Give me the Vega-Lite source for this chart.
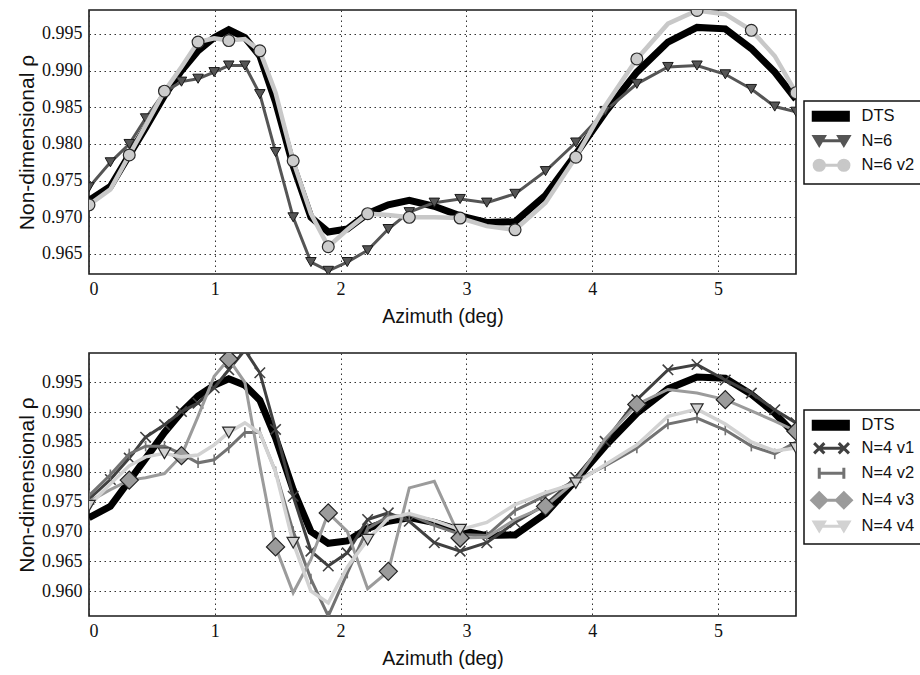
{
  "$schema": "https://vega.github.io/schema/vega-lite/v6.json",
  "background": "white",
  "padding": {"left": 15, "top": 9, "right": 0, "bottom": 0},
  "spacing": 25,
  "resolve": {"scale": {"color": "independent"}, "legend": {"color": "independent"}},
  "config": {
    "view": {"stroke": "#1a1a1a", "strokeWidth": 1.6},
    "axis": {"grid": true, "gridColor": "#333333", "gridDash": [1.5, 3.5], "gridWidth": 1, "domain": false, "ticks": false, "labelFont": "Liberation Serif", "labelFontSize": 18, "labelColor": "#111111", "titleFont": "Liberation Sans", "titleFontWeight": "normal", "titleColor": "#111111"},
    "axisX": {"titleFontSize": 19.5, "labelPadding": 6, "titlePadding": 9},
    "axisY": {"titleFontSize": 21, "labelPadding": 7, "titlePadding": 4},
    "legend": {"orient": "none", "title": null, "padding": 7, "rowPadding": 2.5, "labelFont": "Liberation Sans", "labelFontSize": 16.5, "labelColor": "#111111", "symbolSize": 144, "symbolStrokeWidth": 3, "labelOffset": 34, "strokeColor": "#111111"}
  },
  "datasets": {
    "top": [
      {"series":"DTS","az":0,"rho":0.9723},{"series":"DTS","az":0.17,"rho":0.9742},{"series":"DTS","az":0.32,"rho":0.9785},{"series":"DTS","az":0.45,"rho":0.9822},{"series":"DTS","az":0.6,"rho":0.9866},{"series":"DTS","az":0.735,"rho":0.99},{"series":"DTS","az":0.867,"rho":0.9927},{"series":"DTS","az":0.995,"rho":0.9945},{"series":"DTS","az":1.111,"rho":0.9956},{"series":"DTS","az":1.239,"rho":0.9945},{"series":"DTS","az":1.358,"rho":0.992},{"series":"DTS","az":1.483,"rho":0.9857},{"series":"DTS","az":1.623,"rho":0.977},{"series":"DTS","az":1.764,"rho":0.97},{"series":"DTS","az":1.902,"rho":0.968},{"series":"DTS","az":2.053,"rho":0.9684},{"series":"DTS","az":2.215,"rho":0.9705},{"series":"DTS","az":2.379,"rho":0.9717},{"series":"DTS","az":2.546,"rho":0.9723},{"series":"DTS","az":2.745,"rho":0.9715},{"series":"DTS","az":2.95,"rho":0.9702},{"series":"DTS","az":3.162,"rho":0.9693},{"series":"DTS","az":3.387,"rho":0.9694},{"series":"DTS","az":3.629,"rho":0.973},{"series":"DTS","az":3.87,"rho":0.9786},{"series":"DTS","az":4.103,"rho":0.9843},{"series":"DTS","az":4.355,"rho":0.9898},{"series":"DTS","az":4.602,"rho":0.9939},{"series":"DTS","az":4.833,"rho":0.9959},{"series":"DTS","az":5.058,"rho":0.9957},{"series":"DTS","az":5.265,"rho":0.993},{"series":"DTS","az":5.451,"rho":0.9898},{"series":"DTS","az":5.62,"rho":0.9861},
      {"series":"N=6","az":0,"rho":0.9741},{"series":"N=6","az":0.17,"rho":0.9775},{"series":"N=6","az":0.32,"rho":0.98},{"series":"N=6","az":0.45,"rho":0.9835},{"series":"N=6","az":0.6,"rho":0.9871},{"series":"N=6","az":0.735,"rho":0.9885},{"series":"N=6","az":0.867,"rho":0.9889},{"series":"N=6","az":0.995,"rho":0.9898},{"series":"N=6","az":1.111,"rho":0.9907},{"series":"N=6","az":1.239,"rho":0.9907},{"series":"N=6","az":1.358,"rho":0.9868},{"series":"N=6","az":1.483,"rho":0.9789},{"series":"N=6","az":1.623,"rho":0.97},{"series":"N=6","az":1.764,"rho":0.9639},{"series":"N=6","az":1.902,"rho":0.9627},{"series":"N=6","az":2.053,"rho":0.9639},{"series":"N=6","az":2.215,"rho":0.9655},{"series":"N=6","az":2.379,"rho":0.9684},{"series":"N=6","az":2.546,"rho":0.9707},{"series":"N=6","az":2.745,"rho":0.972},{"series":"N=6","az":2.95,"rho":0.9725},{"series":"N=6","az":3.162,"rho":0.972},{"series":"N=6","az":3.387,"rho":0.9732},{"series":"N=6","az":3.629,"rho":0.9763},{"series":"N=6","az":3.87,"rho":0.9802},{"series":"N=6","az":4.103,"rho":0.9845},{"series":"N=6","az":4.355,"rho":0.9882},{"series":"N=6","az":4.602,"rho":0.9905},{"series":"N=6","az":4.833,"rho":0.9907},{"series":"N=6","az":5.058,"rho":0.9895},{"series":"N=6","az":5.265,"rho":0.9875},{"series":"N=6","az":5.451,"rho":0.9851},{"series":"N=6","az":5.62,"rho":0.9844},
      {"series":"N=6 v2","az":0,"rho":0.9717},{"series":"N=6 v2","az":0.17,"rho":0.9738},{"series":"N=6 v2","az":0.32,"rho":0.9785},{"series":"N=6 v2","az":0.45,"rho":0.9825},{"series":"N=6 v2","az":0.6,"rho":0.9872},{"series":"N=6 v2","az":0.735,"rho":0.9905},{"series":"N=6 v2","az":0.867,"rho":0.9939},{"series":"N=6 v2","az":0.995,"rho":0.9944},{"series":"N=6 v2","az":1.111,"rho":0.9941},{"series":"N=6 v2","az":1.239,"rho":0.9943},{"series":"N=6 v2","az":1.358,"rho":0.9927},{"series":"N=6 v2","az":1.483,"rho":0.987},{"series":"N=6 v2","az":1.623,"rho":0.9777},{"series":"N=6 v2","az":1.764,"rho":0.9705},{"series":"N=6 v2","az":1.902,"rho":0.966},{"series":"N=6 v2","az":2.053,"rho":0.9683},{"series":"N=6 v2","az":2.215,"rho":0.9705},{"series":"N=6 v2","az":2.379,"rho":0.9703},{"series":"N=6 v2","az":2.546,"rho":0.97},{"series":"N=6 v2","az":2.745,"rho":0.97},{"series":"N=6 v2","az":2.95,"rho":0.9699},{"series":"N=6 v2","az":3.162,"rho":0.9688},{"series":"N=6 v2","az":3.387,"rho":0.9683},{"series":"N=6 v2","az":3.629,"rho":0.972},{"series":"N=6 v2","az":3.87,"rho":0.9782},{"series":"N=6 v2","az":4.103,"rho":0.9852},{"series":"N=6 v2","az":4.355,"rho":0.9916},{"series":"N=6 v2","az":4.602,"rho":0.9964},{"series":"N=6 v2","az":4.833,"rho":0.9982},{"series":"N=6 v2","az":5.058,"rho":0.9977},{"series":"N=6 v2","az":5.265,"rho":0.9955},{"series":"N=6 v2","az":5.451,"rho":0.992},{"series":"N=6 v2","az":5.62,"rho":0.987}
    ],
    "bottom": [
      {"series":"DTS","az":0,"rho":0.9723},{"series":"DTS","az":0.17,"rho":0.9742},{"series":"DTS","az":0.32,"rho":0.9785},{"series":"DTS","az":0.45,"rho":0.9822},{"series":"DTS","az":0.6,"rho":0.9866},{"series":"DTS","az":0.735,"rho":0.99},{"series":"DTS","az":0.867,"rho":0.9927},{"series":"DTS","az":0.995,"rho":0.9945},{"series":"DTS","az":1.111,"rho":0.9956},{"series":"DTS","az":1.239,"rho":0.9945},{"series":"DTS","az":1.358,"rho":0.992},{"series":"DTS","az":1.483,"rho":0.9857},{"series":"DTS","az":1.623,"rho":0.977},{"series":"DTS","az":1.764,"rho":0.97},{"series":"DTS","az":1.902,"rho":0.968},{"series":"DTS","az":2.053,"rho":0.9684},{"series":"DTS","az":2.215,"rho":0.9705},{"series":"DTS","az":2.379,"rho":0.9717},{"series":"DTS","az":2.546,"rho":0.9723},{"series":"DTS","az":2.745,"rho":0.9715},{"series":"DTS","az":2.95,"rho":0.9702},{"series":"DTS","az":3.162,"rho":0.9693},{"series":"DTS","az":3.387,"rho":0.9694},{"series":"DTS","az":3.629,"rho":0.973},{"series":"DTS","az":3.87,"rho":0.9786},{"series":"DTS","az":4.103,"rho":0.9843},{"series":"DTS","az":4.355,"rho":0.9898},{"series":"DTS","az":4.602,"rho":0.9939},{"series":"DTS","az":4.833,"rho":0.9959},{"series":"DTS","az":5.058,"rho":0.9957},{"series":"DTS","az":5.265,"rho":0.993},{"series":"DTS","az":5.451,"rho":0.9898},{"series":"DTS","az":5.62,"rho":0.9861},
      {"series":"N=4 v1","az":0,"rho":0.9754},{"series":"N=4 v1","az":0.17,"rho":0.9787},{"series":"N=4 v1","az":0.32,"rho":0.9823},{"series":"N=4 v1","az":0.45,"rho":0.9858},{"series":"N=4 v1","az":0.6,"rho":0.9879},{"series":"N=4 v1","az":0.735,"rho":0.9901},{"series":"N=4 v1","az":0.867,"rho":0.9915},{"series":"N=4 v1","az":0.995,"rho":0.9941},{"series":"N=4 v1","az":1.111,"rho":0.9971},{"series":"N=4 v1","az":1.239,"rho":1.0004},{"series":"N=4 v1","az":1.358,"rho":0.9966},{"series":"N=4 v1","az":1.483,"rho":0.9871},{"series":"N=4 v1","az":1.623,"rho":0.9759},{"series":"N=4 v1","az":1.764,"rho":0.9667},{"series":"N=4 v1","az":1.902,"rho":0.9642},{"series":"N=4 v1","az":2.053,"rho":0.9664},{"series":"N=4 v1","az":2.215,"rho":0.972},{"series":"N=4 v1","az":2.379,"rho":0.9731},{"series":"N=4 v1","az":2.546,"rho":0.9717},{"series":"N=4 v1","az":2.745,"rho":0.9681},{"series":"N=4 v1","az":2.95,"rho":0.9667},{"series":"N=4 v1","az":3.162,"rho":0.9681},{"series":"N=4 v1","az":3.387,"rho":0.9715},{"series":"N=4 v1","az":3.629,"rho":0.9745},{"series":"N=4 v1","az":3.87,"rho":0.979},{"series":"N=4 v1","az":4.103,"rho":0.9851},{"series":"N=4 v1","az":4.355,"rho":0.9921},{"series":"N=4 v1","az":4.602,"rho":0.9971},{"series":"N=4 v1","az":4.833,"rho":0.998},{"series":"N=4 v1","az":5.058,"rho":0.9954},{"series":"N=4 v1","az":5.265,"rho":0.9932},{"series":"N=4 v1","az":5.451,"rho":0.9904},{"series":"N=4 v1","az":5.62,"rho":0.9882},
      {"series":"N=4 v2","az":0,"rho":0.976},{"series":"N=4 v2","az":0.17,"rho":0.9795},{"series":"N=4 v2","az":0.32,"rho":0.983},{"series":"N=4 v2","az":0.45,"rho":0.9843},{"series":"N=4 v2","az":0.6,"rho":0.9843},{"series":"N=4 v2","az":0.735,"rho":0.983},{"series":"N=4 v2","az":0.867,"rho":0.9815},{"series":"N=4 v2","az":0.995,"rho":0.982},{"series":"N=4 v2","az":1.111,"rho":0.984},{"series":"N=4 v2","az":1.239,"rho":0.9866},{"series":"N=4 v2","az":1.358,"rho":0.9866},{"series":"N=4 v2","az":1.483,"rho":0.98},{"series":"N=4 v2","az":1.623,"rho":0.97},{"series":"N=4 v2","az":1.764,"rho":0.962},{"series":"N=4 v2","az":1.902,"rho":0.9558},{"series":"N=4 v2","az":2.053,"rho":0.963},{"series":"N=4 v2","az":2.215,"rho":0.9705},{"series":"N=4 v2","az":2.379,"rho":0.9725},{"series":"N=4 v2","az":2.546,"rho":0.9728},{"series":"N=4 v2","az":2.745,"rho":0.971},{"series":"N=4 v2","az":2.95,"rho":0.9695},{"series":"N=4 v2","az":3.162,"rho":0.9693},{"series":"N=4 v2","az":3.387,"rho":0.9735},{"series":"N=4 v2","az":3.629,"rho":0.976},{"series":"N=4 v2","az":3.87,"rho":0.9785},{"series":"N=4 v2","az":4.103,"rho":0.981},{"series":"N=4 v2","az":4.355,"rho":0.984},{"series":"N=4 v2","az":4.602,"rho":0.988},{"series":"N=4 v2","az":4.833,"rho":0.989},{"series":"N=4 v2","az":5.058,"rho":0.987},{"series":"N=4 v2","az":5.265,"rho":0.9843},{"series":"N=4 v2","az":5.451,"rho":0.983},{"series":"N=4 v2","az":5.62,"rho":0.985},
      {"series":"N=4 v3","az":0,"rho":0.975},{"series":"N=4 v3","az":0.17,"rho":0.977},{"series":"N=4 v3","az":0.32,"rho":0.9786},{"series":"N=4 v3","az":0.45,"rho":0.979},{"series":"N=4 v3","az":0.6,"rho":0.9797},{"series":"N=4 v3","az":0.735,"rho":0.9827},{"series":"N=4 v3","az":0.867,"rho":0.9893},{"series":"N=4 v3","az":0.995,"rho":0.996},{"series":"N=4 v3","az":1.111,"rho":0.9989},{"series":"N=4 v3","az":1.239,"rho":0.995},{"series":"N=4 v3","az":1.358,"rho":0.981},{"series":"N=4 v3","az":1.483,"rho":0.9674},{"series":"N=4 v3","az":1.623,"rho":0.9597},{"series":"N=4 v3","az":1.764,"rho":0.9653},{"series":"N=4 v3","az":1.902,"rho":0.9731},{"series":"N=4 v3","az":2.053,"rho":0.97},{"series":"N=4 v3","az":2.215,"rho":0.9604},{"series":"N=4 v3","az":2.379,"rho":0.9633},{"series":"N=4 v3","az":2.546,"rho":0.9773},{"series":"N=4 v3","az":2.745,"rho":0.9784},{"series":"N=4 v3","az":2.95,"rho":0.9689},{"series":"N=4 v3","az":3.162,"rho":0.969},{"series":"N=4 v3","az":3.387,"rho":0.972},{"series":"N=4 v3","az":3.629,"rho":0.9742},{"series":"N=4 v3","az":3.87,"rho":0.9785},{"series":"N=4 v3","az":4.103,"rho":0.9855},{"series":"N=4 v3","az":4.355,"rho":0.9913},{"series":"N=4 v3","az":4.602,"rho":0.9938},{"series":"N=4 v3","az":4.833,"rho":0.9932},{"series":"N=4 v3","az":5.058,"rho":0.9921},{"series":"N=4 v3","az":5.265,"rho":0.9902},{"series":"N=4 v3","az":5.451,"rho":0.9885},{"series":"N=4 v3","az":5.62,"rho":0.9868},
      {"series":"N=4 v4","az":0,"rho":0.9743},{"series":"N=4 v4","az":0.17,"rho":0.978},{"series":"N=4 v4","az":0.32,"rho":0.981},{"series":"N=4 v4","az":0.45,"rho":0.9825},{"series":"N=4 v4","az":0.6,"rho":0.9831},{"series":"N=4 v4","az":0.735,"rho":0.9825},{"series":"N=4 v4","az":0.867,"rho":0.9828},{"series":"N=4 v4","az":0.995,"rho":0.9845},{"series":"N=4 v4","az":1.111,"rho":0.9866},{"series":"N=4 v4","az":1.239,"rho":0.9882},{"series":"N=4 v4","az":1.358,"rho":0.9865},{"series":"N=4 v4","az":1.483,"rho":0.98},{"series":"N=4 v4","az":1.623,"rho":0.9681},{"series":"N=4 v4","az":1.764,"rho":0.96},{"series":"N=4 v4","az":1.902,"rho":0.958},{"series":"N=4 v4","az":2.053,"rho":0.964},{"series":"N=4 v4","az":2.215,"rho":0.9686},{"series":"N=4 v4","az":2.379,"rho":0.9722},{"series":"N=4 v4","az":2.546,"rho":0.973},{"series":"N=4 v4","az":2.745,"rho":0.9718},{"series":"N=4 v4","az":2.95,"rho":0.9703},{"series":"N=4 v4","az":3.162,"rho":0.9715},{"series":"N=4 v4","az":3.387,"rho":0.9745},{"series":"N=4 v4","az":3.629,"rho":0.9765},{"series":"N=4 v4","az":3.87,"rho":0.9781},{"series":"N=4 v4","az":4.103,"rho":0.9812},{"series":"N=4 v4","az":4.355,"rho":0.9845},{"series":"N=4 v4","az":4.602,"rho":0.9893},{"series":"N=4 v4","az":4.833,"rho":0.9905},{"series":"N=4 v4","az":5.058,"rho":0.988},{"series":"N=4 v4","az":5.265,"rho":0.985},{"series":"N=4 v4","az":5.451,"rho":0.9835},{"series":"N=4 v4","az":5.62,"rho":0.984}
    ]
  },
  "vconcat": [
    {
      "width": 707,
      "height": 264,
      "data": {"name": "top"},
      "transform": [{"window": [{"op": "row_number", "as": "rn"}], "groupby": ["series"], "sort": [{"field": "az"}]}],
      "encoding": {
        "x": {"field": "az", "type": "quantitative", "scale": {"domain": [0, 5.62], "nice": false, "zero": false}, "axis": {"title": "Azimuth (deg)", "values": [0, 1, 2, 3, 4, 5], "format": "d"}},
        "y": {"field": "rho", "type": "quantitative", "scale": {"domain": [0.96227, 0.99827], "nice": false, "zero": false}, "axis": {"title": "Non-dimensional ρ", "values": [0.965, 0.97, 0.975, 0.98, 0.985, 0.99, 0.995], "format": ".3f"}}
      },
      "layer": [
        {
          "transform": [{"filter": "datum.series === 'DTS'"}],
          "mark": {"type": "line", "clip": true, "strokeWidth": 7, "strokeJoin": "miter"},
          "encoding": {
            "color": {"field": "series", "type": "nominal", "scale": {"domain": ["DTS", "N=6", "N=6 v2"], "range": ["#000000", "#555555", "#c8c8c8"]},
              "legend": {"legendX": 715, "legendY": 91, "symbolStrokeWidth": 3, "rowPadding": 2.5,
                "encode": {
                  "legend": {"update": {"strokeWidth": {"value": 1.5}}},
                  "symbols": {"update": {
                    "shape": {"signal": "datum.value === 'DTS' ? 'M-1,-0.67L4.85,-0.67L4.85,0.67L-1,0.67Z' : datum.value === 'N=6' ? 'M-0.85,-0.72L0.85,-0.72L0,0.72Z M3.25,-0.72L4.95,-0.72L4.1,0.72Z M0,0L4.1,0' : 'M0.85,0A0.85,0.85 0 1 1 -0.85,0A0.85,0.85 0 1 1 0.85,0Z M4.95,0A0.85,0.85 0 1 1 3.25,0A0.85,0.85 0 1 1 4.95,0Z M0,0L4.1,0'"},
                    "fill": {"signal": "datum.value === 'DTS' ? '#000000' : datum.value === 'N=6' ? '#555555' : '#c8c8c8'"},
                    "stroke": {"signal": "datum.value === 'DTS' ? 'transparent' : datum.value === 'N=6' ? '#555555' : '#c8c8c8'"},
                    "opacity": {"value": 1}
                  }}
                }}}
          }
        },
        {
          "transform": [{"filter": "datum.series === 'N=6'"}],
          "mark": {"type": "line", "clip": true, "strokeWidth": 3, "color": "#555555"}
        },
        {
          "transform": [{"filter": "datum.series === 'N=6'"}],
          "mark": {"type": "point", "clip": true, "shape": "triangle-down", "size": 110, "filled": true, "fill": "#555555", "stroke": "#1a1a1a", "strokeWidth": 1, "opacity": 1}
        },
        {
          "transform": [{"filter": "datum.series === 'N=6 v2'"}],
          "mark": {"type": "line", "clip": true, "strokeWidth": 4.5, "color": "#c8c8c8"}
        },
        {
          "transform": [{"filter": "datum.series === 'N=6 v2' && (datum.rn - 1) % 2 === 0"}],
          "mark": {"type": "point", "clip": true, "shape": "circle", "size": 140, "filled": true, "fill": "#cccccc", "stroke": "#2a2a2a", "strokeWidth": 1.2, "opacity": 1}
        }
      ]
    },
    {
      "width": 707,
      "height": 263,
      "data": {"name": "bottom"},
      "transform": [{"window": [{"op": "row_number", "as": "rn"}], "groupby": ["series"], "sort": [{"field": "az"}]}],
      "encoding": {
        "x": {"field": "az", "type": "quantitative", "scale": {"domain": [0, 5.62], "nice": false, "zero": false}, "axis": {"title": "Azimuth (deg)", "values": [0, 1, 2, 3, 4, 5], "format": "d"}},
        "y": {"field": "rho", "type": "quantitative", "scale": {"domain": [0.95581, 0.99992], "nice": false, "zero": false}, "axis": {"title": "Non-dimensional ρ", "values": [0.96, 0.965, 0.97, 0.975, 0.98, 0.985, 0.99, 0.995], "format": ".3f"}}
      },
      "layer": [
        {
          "transform": [{"filter": "datum.series === 'DTS'"}],
          "mark": {"type": "line", "clip": true, "strokeWidth": 7, "strokeJoin": "miter"},
          "encoding": {
            "color": {"field": "series", "type": "nominal", "scale": {"domain": ["DTS", "N=4 v1", "N=4 v2", "N=4 v3", "N=4 v4"], "range": ["#000000", "#404040", "#727272", "#9b9b9b", "#d2d2d2"]},
              "legend": {"legendX": 715, "legendY": 57, "symbolStrokeWidth": 3, "rowPadding": 1,
                "encode": {
                  "legend": {"update": {"strokeWidth": {"value": 1.5}}},
                  "symbols": {"update": {
                    "shape": {"signal": "datum.value === 'DTS' ? 'M-1,-0.67L4.85,-0.67L4.85,0.67L-1,0.67Z' : datum.value === 'N=4 v1' ? 'M-0.85,-0.85L0.85,0.85M-0.85,0.85L0.85,-0.85M3.25,-0.85L4.95,0.85M3.25,0.85L4.95,-0.85M0,0L4.1,0' : datum.value === 'N=4 v2' ? 'M0,-0.9L0,0.9M4.1,-0.9L4.1,0.9M0,0L4.1,0' : datum.value === 'N=4 v3' ? 'M-1.25,0L0,-1.25L1.25,0L0,1.25Z M2.85,0L4.1,-1.25L5.35,0L4.1,1.25Z M0,0L4.1,0' : 'M-0.85,-0.72L0.85,-0.72L0,0.72Z M3.25,-0.72L4.95,-0.72L4.1,0.72Z M0,0L4.1,0'"},
                    "fill": {"signal": "datum.value === 'DTS' ? '#000000' : datum.value === 'N=4 v3' ? '#9b9b9b' : datum.value === 'N=4 v4' ? '#d2d2d2' : 'transparent'"},
                    "stroke": {"signal": "datum.value === 'DTS' ? 'transparent' : datum.value === 'N=4 v1' ? '#404040' : datum.value === 'N=4 v2' ? '#727272' : datum.value === 'N=4 v3' ? '#9b9b9b' : '#d2d2d2'"},
                    "opacity": {"value": 1}
                  }}
                }}}
          }
        },
        {
          "transform": [{"filter": "datum.series === 'N=4 v1'"}],
          "mark": {"type": "line", "clip": true, "strokeWidth": 3, "color": "#404040"}
        },
        {
          "transform": [{"filter": "datum.series === 'N=4 v1'"}],
          "mark": {"type": "point", "clip": true, "shape": "M-1,-1L1,1M-1,1L1,-1", "size": 110, "filled": false, "stroke": "#404040", "strokeWidth": 1.6, "opacity": 1}
        },
        {
          "transform": [{"filter": "datum.series === 'N=4 v2'"}],
          "mark": {"type": "line", "clip": true, "strokeWidth": 3, "color": "#727272"}
        },
        {
          "transform": [{"filter": "datum.series === 'N=4 v2'"}],
          "mark": {"type": "point", "clip": true, "shape": "M0,-1L0,1", "size": 110, "filled": false, "stroke": "#727272", "strokeWidth": 1.6, "opacity": 1}
        },
        {
          "transform": [{"filter": "datum.series === 'N=4 v3'"}],
          "mark": {"type": "line", "clip": true, "strokeWidth": 3, "color": "#9b9b9b"}
        },
        {
          "transform": [{"filter": "datum.series === 'N=4 v3' && (datum.rn - 1) % 3 === 2"}],
          "mark": {"type": "point", "clip": true, "shape": "diamond", "size": 330, "filled": true, "fill": "#9b9b9b", "stroke": "#222222", "strokeWidth": 1.2, "opacity": 1}
        },
        {
          "transform": [{"filter": "datum.series === 'N=4 v4'"}],
          "mark": {"type": "line", "clip": true, "strokeWidth": 3.5, "color": "#d2d2d2"}
        },
        {
          "transform": [{"filter": "datum.series === 'N=4 v4' && (datum.rn - 1) % 4 === 0"}],
          "mark": {"type": "point", "clip": true, "shape": "triangle-down", "size": 150, "filled": true, "fill": "#d2d2d2", "stroke": "#2a2a2a", "strokeWidth": 1.2, "opacity": 1}
        }
      ]
    }
  ]
}
